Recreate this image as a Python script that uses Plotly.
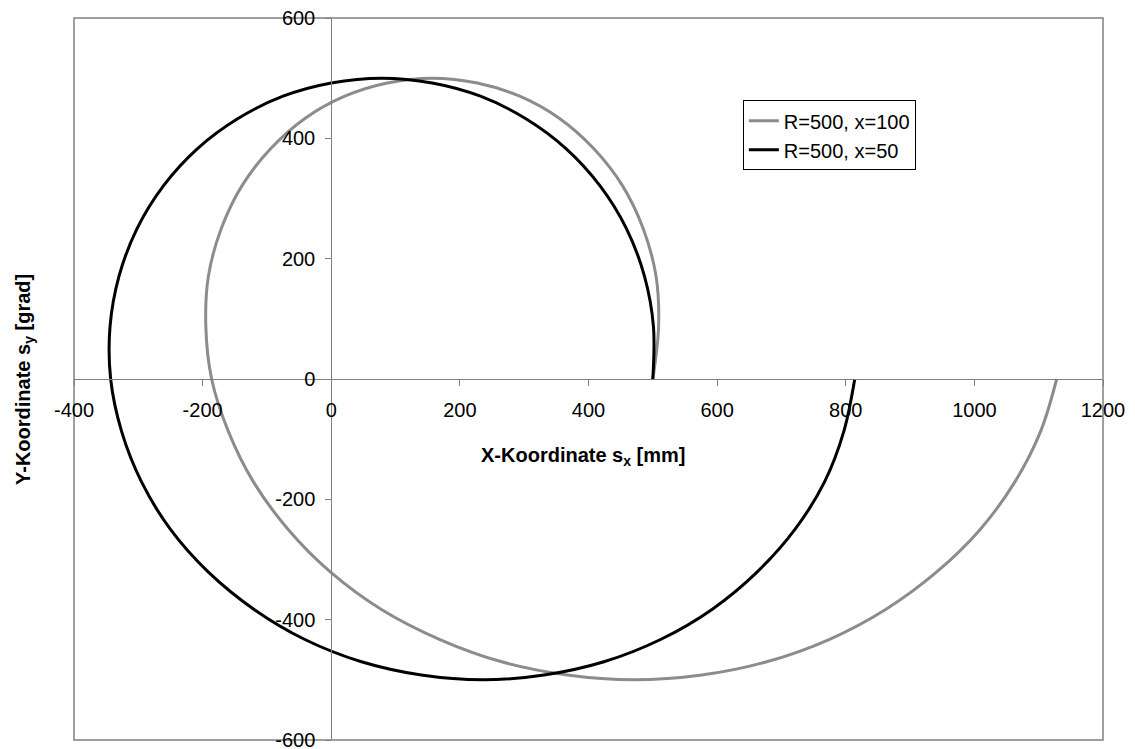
import plotly.graph_objects as go

# Series (X-Koordinate, Y-Koordinate)
x_r500_x100 = [500, 509, 505, 485, 453, 408, 355, 293, 227, 157, 87, 21, -41, -94, -139, -171, -191, -195,
               -186, -160, -121, -67, -1, 78, 169, 265, 367, 471, 576, 677, 774, 862, 941, 1009, 1063, 1103, 1128]
y_r500_x100 = [0, 87, 171, 250, 321, 383, 433, 470, 492, 500, 492, 470, 433, 383, 321, 250, 171, 87,
               0, -87, -171, -250, -321, -383, -433, -470, -492, -500, -492, -470, -433, -383, -321, -250, -171, -87, 0]

x_r500_x50 = [500, 501, 487, 459, 418, 365, 302, 232, 157, 79, 0, -75, -145, -208, -261, -302, -330, -344,
              -343, -326, -295, -250, -191, -120, -41, 47, 140, 236, 331, 424, 512, 592, 662, 721, 767, 797, 814]
y_r500_x50 = [0, 87, 171, 250, 321, 383, 433, 470, 492, 500, 492, 470, 433, 383, 321, 250, 171, 87,
              0, -87, -171, -250, -321, -383, -433, -470, -492, -500, -492, -470, -433, -383, -321, -250, -171, -87, 0]

series_names = ["R=500, x=100", "R=500, x=50"]

x_tickvals = [-400, -200, 0, 200, 400, 600, 800, 1000, 1200]
x_ticktext = ["-400", "-200", "0", "200", "400", "600", "800", "1000", "1200"]
y_tickvals = [-600, -400, -200, 0, 200, 400, 600]
y_ticktext = ["-600", "-400", "-200", "0", "200", "400", "600"]

FONT = "Arial, Liberation Sans, sans-serif"
AXIS_COLOR = "#808080"

fig = go.Figure()
fig.add_trace(go.Scatter(x=x_r500_x100, y=y_r500_x100, mode="lines", name=series_names[0],
                         line=dict(color="#8c8c8c", width=3, shape="spline", smoothing=1)))
fig.add_trace(go.Scatter(x=x_r500_x50, y=y_r500_x50, mode="lines", name=series_names[1],
                         line=dict(color="#000000", width=3, shape="spline", smoothing=1)))

fig.update_layout(
    width=1127, height=741,
    margin=dict(l=66, r=32, t=10, b=9, autoexpand=False),
    paper_bgcolor="white", plot_bgcolor="white",
    font=dict(family=FONT, size=20, color="black"),
    showlegend=True,
    legend=dict(x=0.650, y=0.886, xanchor="left", yanchor="top",
                bordercolor="black", borderwidth=1, bgcolor="white",
                font=dict(family=FONT, size=20, color="black"),
                tracegroupgap=0, itemwidth=30, entrywidth=180, entrywidthmode="pixels"),
    xaxis=dict(range=[-400, 1200], tickvals=x_tickvals, ticktext=x_ticktext,
               anchor="free", position=0.5, showgrid=False, zeroline=False,
               showline=True, linecolor=AXIS_COLOR, linewidth=1,
               ticks="outside", ticklen=6, tickcolor=AXIS_COLOR, tickwidth=1,
               ticklabelstandoff=7, automargin=False, ticklabeloverflow="allow",
               tickfont=dict(family=FONT, size=20, color="black")),
    yaxis=dict(range=[-600, 600], tickvals=y_tickvals, ticktext=y_ticktext,
               anchor="free", position=0.25, showgrid=False, zeroline=False,
               showline=True, linecolor=AXIS_COLOR, linewidth=1,
               ticks="outside", ticklen=6, tickcolor=AXIS_COLOR, tickwidth=1,
               ticklabelstandoff=6, automargin=False, ticklabeloverflow="allow",
               tickfont=dict(family=FONT, size=20, color="black")),
    shapes=[dict(type="rect", xref="paper", yref="paper", x0=0, y0=0, x1=1, y1=1,
                 line=dict(color=AXIS_COLOR, width=1.5), layer="below")],
    annotations=[
        dict(text="<b>X-Koordinate s<sub>x</sub> [mm]</b>", xref="paper", yref="paper",
             x=0.495, y=0.393, xanchor="center", yanchor="middle", showarrow=False,
             font=dict(family=FONT, size=20, color="black")),
        dict(text="<b>Y-Koordinate s<sub>y</sub> [grad]</b>", xref="paper", yref="paper",
             x=-0.0486, y=0.5, xanchor="center", yanchor="middle", showarrow=False,
             textangle=-90, font=dict(family=FONT, size=20, color="black")),
    ],
)

fig.write_html("out.html")
